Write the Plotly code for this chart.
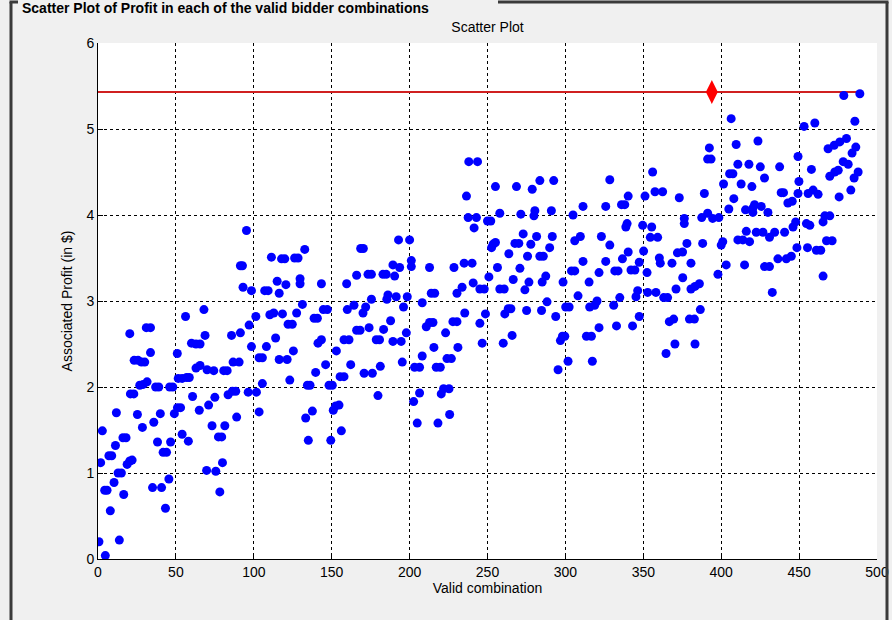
import plotly.graph_objects as go

# ---- data ----
combo = [
    0.6, 4.7, 1.7, 2.8, 4.3, 5.8, 7.9, 7, 8.8, 10.3, 11.2, 11.8, 12.9, 15, 13.7, 16.5, 16, 18, 18.7, 20.4,
    21.9, 20.4, 20.8, 23, 23.2, 25.7, 27.9, 30, 25.3, 26.8, 29, 28.5, 31.5, 31, 33.7, 33.7, 35, 35.8, 37, 39,
    38.2, 40, 40.8, 41.8, 44, 43.3, 45.5, 46.6, 46, 48, 49, 50.9, 51, 53, 51.5, 54, 56.9, 58.6, 54, 56.2,
    58, 60.7, 60, 62.9, 65.5, 62.9, 65.5, 65, 68, 68.7, 69.7, 70,
    95.3, 91.4, 92.7, 111.3, 117.8, 119.9, 93.1, 98.5, 107, 109.2, 115, 120.6, 116.3, 101.3, 110.3, 112.8, 118.4,
    122, 97, 91.4, 85.7, 114, 98.5, 108.1, 103.4, 105.5, 116.3, 121.4, 74.3, 80.7, 82.9, 86.7, 90.6, 123.1,
    105.5, 83.5, 86.3, 88.4, 96.4, 101.7, 75, 71, 103.4, 89, 73.2, 81.4, 77.3, 79.4, 79.9, 75.6, 78.2,
    132.7, 126.2, 128.4, 168.6, 170.3, 129.7, 129.7, 143.4, 159.6, 166, 173.3, 175.5, 127.5, 131.2, 124.7,
    138.7, 140.8, 144.6, 147.2, 160, 164.3, 170.1, 171.8, 175.5, 166, 168.2, 174, 143.4, 141.2, 157.9, 161.1,
    125.4, 153, 146.1, 139.7, 162.2, 155.4, 157.9, 170.8, 176.1, 134.4, 136.1, 148.3, 150.4, 137.6, 133.3,
    152.6, 154.7, 151, 156.2, 135, 149.4,
    192.9, 200, 189.3, 193.6, 201.1, 201.1, 182.9, 185, 190.4, 212.8, 228.5, 186.1, 185.4, 191.4, 198.5, 196.1,
    208.1, 213.9, 216.1, 230.4, 183.3, 187.8, 178.6, 180.7, 189.3, 194.6, 197.9, 210.7, 212.8, 215, 223.1,
    227.8, 230.4, 215.6, 231, 208.1, 224, 226.8, 181.2, 195.3, 203.2, 206.4, 217.1, 219.7, 179.7, 206.4,
    202.6, 220.3, 221.8, 225.3, 225.7, 204.9, 218.2,
    238, 243.6, 236.5, 255.1, 268.6, 278.7, 283.6, 237.6, 242.9, 241.4, 250, 252.1, 257.9, 271.4, 280.4, 279.8,
    253.6, 255.1, 252.6, 272.9, 267.6, 270.1, 277.8, 281.5, 263.7, 275.7, 283.6, 285.8, 235, 240.1, 256.4,
    270.8, 250.9, 266.5, 276.6, 274, 240.8, 233.7, 245.1, 247.9, 257.9, 260.7, 285.1, 235.4, 248.7, 245.1,
    261.1, 263.3, 265, 275.1, 284.7, 246.6, 260.1, 265.8,
    292.5, 328.5, 291, 304.9, 311.3, 325.9, 336, 338.1, 340.3, 291.6, 289.9, 306, 309.6, 323.1, 328.5, 338.8,
    339.6, 311.3, 325.9, 336.6, 340.3, 303.9, 306, 321.6, 331.7, 333.8, 287.4, 298.5, 315.2, 308.1, 288.2,
    293.8, 300.2, 302.4, 315.6, 318.8, 320.3, 331, 334.9, 321.6, 332.8, 298.1, 299.6, 296.8, 313.5, 316.7,
    301.7, 295.3, 317.3,
    351.1, 356, 357.5, 362.4, 373.1, 389.2, 392.4, 391.3, 393.5, 349.6, 355.4, 376.3, 376.3, 387.5, 391.3,
    394.5, 354.5, 359.2, 350.2, 378, 388.1, 371.9, 375.2, 347.4, 342.1, 344.6, 352.4, 360.3, 360.9, 368.4,
    380.6, 375.3, 346.4, 345.3, 352.8, 358.1, 363.1, 365.6, 371, 380.6, 383.2, 386, 386.6, 347.4, 343.1,
    366.7, 369.5, 379.6, 382.8, 370.3, 383.2, 364.6,
    406.4, 409.6, 423.6, 410.7, 417.8, 425.1, 437.5, 449.3, 405.4, 407.5, 427.8, 401.5, 412.8, 419.7, 438.5,
    440, 449.9, 408.1, 442.8, 445.6, 449.3, 398.5, 404.9, 415.6, 420.3, 421.4, 425.7, 420.3, 430, 447.8, 446.1,
    416.1, 422.5, 426.8, 431, 434.3, 440.7, 401, 400, 410.7, 413.9, 418.2, 448.6, 436.4, 441.8, 445, 403.2,
    415, 427.8, 431, 397.9, 432.8,
    478.7, 489, 485.8, 453.2, 460.1, 468.6, 472.5, 476.1, 480.4, 486.4, 484, 457.9, 478.3, 481.5, 469.7,
    472.9, 475.1, 487.9, 485.3, 483.2, 455.8, 459, 462.2, 475.7, 466.5, 469.7, 465.4, 454.7, 456.9, 467.6,
    471.2, 455.4, 461.1, 463.9, 465.4,
]

profit = [
    0.2, 0.04, 1.12, 1.49, 0.8, 0.8, 0.56, 1.2, 1.2, 0.89, 1.32, 1.7, 1.0, 1.0, 0.22, 0.75, 1.41, 1.41, 1.1, 1.14,
    1.15, 2.62, 1.92, 1.92, 2.31, 2.31, 2.29, 2.29, 1.68, 2.02, 2.03, 1.53, 2.06, 2.69, 2.69, 2.4, 0.83, 1.59, 2.0, 2.0,
    1.36, 1.69, 0.83, 1.24, 1.24, 0.59, 0.93, 1.36, 2.0, 2.0, 1.69, 2.39, 1.76, 1.76, 2.1, 2.1, 2.11, 2.11, 1.45, 2.82,
    1.37, 1.89, 2.51, 2.5, 2.5, 2.22, 2.25, 1.73, 2.9, 2.6, 1.03, 2.2,
    3.82, 3.41, 3.41, 3.51, 3.49, 3.49, 3.16, 3.12, 3.12, 3.12, 3.23, 3.19, 3.09, 2.82, 2.84, 2.86, 2.85,
    2.73, 2.72, 2.63, 2.6, 2.57, 2.47, 2.47, 2.34, 2.34, 2.32, 2.32, 2.19, 2.19, 2.19, 2.29, 2.29, 2.08,
    2.04, 1.91, 1.95, 1.95, 1.94, 1.94, 1.88, 1.79, 1.71, 1.65, 1.55, 1.55, 1.42, 1.42, 1.12, 1.02, 0.78,
    3.6, 3.5, 3.5, 3.61, 3.61, 3.26, 3.2, 3.2, 3.2, 3.3, 3.31, 3.31, 2.86, 2.96, 2.73,
    2.8, 2.8, 2.9, 2.9, 2.9, 2.95, 2.86, 2.93, 3.02, 2.66, 2.66, 2.69, 2.55, 2.51, 2.55, 2.55,
    2.42, 2.42, 2.26, 2.17, 2.26, 2.12, 2.12, 2.16, 2.16, 2.02, 2.02, 2.02, 2.02, 1.72, 1.64,
    1.78, 1.79, 1.73, 1.49, 1.38, 1.38,
    3.71, 3.71, 3.42, 3.39, 3.47, 3.4, 3.31, 3.31, 3.29, 3.39, 3.39, 3.07, 3.02, 3.05, 3.05, 2.93,
    2.98, 3.09, 3.09, 3.09, 2.67, 2.77, 2.55, 2.55, 2.53, 2.53, 2.63, 2.7, 2.75, 2.75, 2.63,
    2.76, 2.76, 2.46, 2.46, 2.36, 2.33, 2.33, 2.24, 2.29, 2.23, 2.23, 2.23, 2.23, 1.9, 1.93,
    1.83, 1.92, 1.98, 1.98, 1.68, 1.58, 1.58,
    4.62, 4.62, 4.22, 4.33, 4.33, 4.3, 4.4, 3.97, 3.97, 3.85, 3.93, 3.93, 4.02, 4.01, 4.05, 3.99,
    3.66, 3.68, 3.62, 3.78, 3.67, 3.67, 3.66, 3.75, 3.55, 3.52, 3.52, 3.52, 3.44, 3.44, 3.39,
    3.38, 3.28, 3.25, 3.22, 3.13, 3.21, 3.16, 3.14, 3.14, 3.14, 3.14, 3.22, 2.86, 2.85, 2.74,
    2.85, 2.91, 2.91, 2.89, 2.89, 2.51, 2.51, 2.6,
    4.4, 4.41, 4.05, 4.0, 4.1, 4.1, 4.12, 4.12, 4.22, 3.75, 3.62, 3.7, 3.75, 3.75, 3.65, 3.86,
    3.9, 3.46, 3.46, 3.49, 3.57, 3.35, 3.35, 3.33, 3.35, 3.35, 3.29, 3.22, 3.22, 3.06, 2.99,
    2.82, 2.93, 2.93, 2.93, 2.95, 3.0, 2.95, 3.04, 2.69, 2.71, 2.59, 2.59, 2.54, 2.59, 2.59,
    2.3, 2.2, 2.3,
    4.22, 4.5, 4.27, 4.27, 4.2, 4.25, 4.78, 4.65, 4.65, 3.88, 3.86, 3.96, 3.9, 3.97, 4.02,
    3.96, 3.74, 3.74, 3.58, 3.67, 3.67, 3.56, 3.57, 3.45, 3.36, 3.36, 3.33, 3.5, 3.44, 3.44,
    3.44, 3.27, 3.12, 3.05, 3.1, 3.1, 3.04, 3.04, 3.14, 3.14, 3.17, 3.2, 2.9, 2.82, 2.71,
    2.76, 2.79, 2.79, 2.79, 2.5, 2.5, 2.39,
    5.12, 4.82, 4.86, 4.59, 4.59, 4.56, 4.56, 4.68, 4.48, 4.48, 4.43, 4.36, 4.36, 4.33, 4.26,
    4.26, 4.39, 4.19, 4.14, 4.16, 4.25, 3.97, 4.07, 4.06, 4.08, 4.12, 4.1, 4.03, 4.03, 3.92, 3.86,
    3.81, 3.8, 3.8, 3.74, 3.8, 3.8, 3.69, 3.65, 3.71, 3.71, 3.69, 3.62, 3.49, 3.49, 3.52, 3.42,
    3.42, 3.4, 3.4, 3.31, 3.1,
    5.39, 5.41, 5.09, 5.03, 5.07, 4.77, 4.81, 4.85, 4.89, 4.79, 4.72, 4.53, 4.62, 4.59, 4.45,
    4.5, 4.52, 4.5, 4.43, 4.29, 4.25, 4.29, 4.24, 4.21, 3.99, 3.99, 3.92, 3.9, 3.88, 3.7,
    3.7, 3.62, 3.59, 3.59, 3.29,
]

best_combo = [394]
best_profit = [5.43]
max_line_x = [0, 490]
max_line_y = [5.43, 5.43]

x_ticks = [0, 50, 100, 150, 200, 250, 300, 350, 400, 450, 500]
y_ticks = [0, 1, 2, 3, 4, 5, 6]

if len(combo) != len(profit):
    raise SystemExit(f"length mismatch {len(combo)} vs {len(profit)}")

# ---- layout geometry (pixels) ----
W, H = 892, 620
ML, MR, MT, MB = 98, 15, 43, 61
PW, PH = W - ML - MR, H - MT - MB


def px(xp):
    return (xp - ML) / PW


def py(yp):
    return (H - MB - yp) / PH


FONT = "Liberation Sans, Arial, Helvetica, sans-serif"

fig = go.Figure()
fig.add_trace(go.Scatter(
    x=max_line_x, y=max_line_y, mode="lines",
    line=dict(color="#d02020", width=2), hoverinfo="skip"))
fig.add_trace(go.Scatter(
    x=combo, y=profit, mode="markers",
    marker=dict(color="#0000ff", size=9, line=dict(width=0))))
fig.add_trace(go.Scatter(
    x=best_combo, y=best_profit, mode="markers",
    marker=dict(symbol="diamond-tall", color="#ff0000", size=17, line=dict(width=0))))

axis_common = dict(
    showgrid=True, gridcolor="#000000", gridwidth=1, griddash="3px,3px",
    showline=True, linecolor="#000000", linewidth=1, mirror=False,
    ticks="inside", ticklen=5, tickcolor="#000000", zeroline=False,
    tickfont=dict(family=FONT, size=14, color="#000000"),
)

fig.update_layout(
    width=W, height=H,
    margin=dict(l=ML, r=MR, t=MT, b=MB, autoexpand=False),
    paper_bgcolor="#f0f0f0", plot_bgcolor="#ffffff",
    showlegend=False,
    font=dict(family=FONT, size=14, color="#000000"),
    title=dict(text="Scatter Plot", x=0.5, xref="paper", xanchor="center",
               y=1 - 27 / H, yref="container", yanchor="middle",
               font=dict(family=FONT, size=14, color="#000000")),
    xaxis=dict(range=[0, 500], tickvals=x_ticks, title=dict(text="Valid combination", standoff=4,
               font=dict(family=FONT, size=14)), **axis_common),
    yaxis=dict(range=[0, 6], tickvals=y_ticks, title=dict(text="Associated Profit (in $)", standoff=10,
               font=dict(family=FONT, size=14)), **axis_common),
)

# panel frame (uipanel-like border)
frame_col = "#3a3a3a"
shapes = [
    dict(type="line", xref="paper", yref="paper", x0=px(11), x1=px(11), y0=py(2), y1=py(H + 5),
         line=dict(color=frame_col, width=3)),
    dict(type="line", xref="paper", yref="paper", x0=px(9.5), x1=px(18), y0=py(2), y1=py(2),
         line=dict(color=frame_col, width=3)),
    dict(type="line", xref="paper", yref="paper", x0=px(498), x1=px(888.5), y0=py(2), y1=py(2),
         line=dict(color=frame_col, width=3)),
    dict(type="line", xref="paper", yref="paper", x0=px(887), x1=px(887), y0=py(2), y1=py(H + 5),
         line=dict(color=frame_col, width=3)),
]
fig.update_layout(shapes=shapes)

fig.add_annotation(
    text="<b>Scatter Plot of Profit in each of the valid bidder combinations</b>",
    xref="paper", yref="paper", x=px(20), y=py(8), xanchor="left", yanchor="middle",
    showarrow=False, font=dict(family=FONT, size=14, color="#000000"))

fig.write_html(
    "out.html",
    config={"displayModeBar": False},
    post_script="document.body.style.margin='0';document.body.style.overflow='hidden';",
)
